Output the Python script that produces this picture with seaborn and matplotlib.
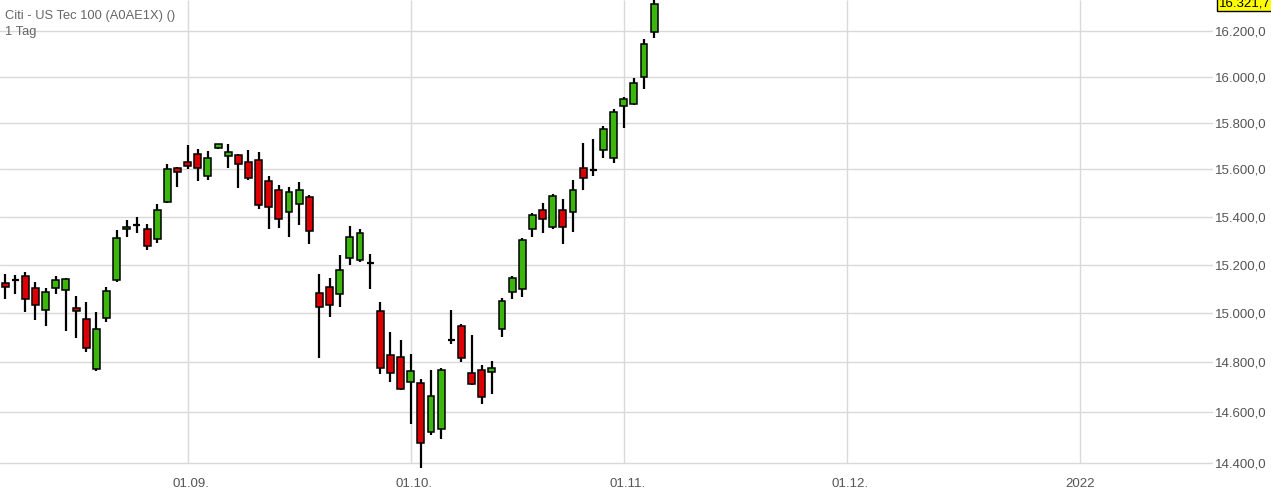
import numpy as np
import pandas as pd
import matplotlib
matplotlib.use("Agg")
import matplotlib.pyplot as plt
import matplotlib.transforms as mtransforms
from matplotlib.ticker import FixedLocator, FuncFormatter, NullLocator
import seaborn as sns

# ---------------- data ----------------
start_date = "2021-08-06"
opens = [15124, 15135, 15152, 15104, 15012, 15104, 15095, 15023, 14976, 14772,
         14980, 15135, 15347, 15367, 15347, 15305, 15462, 15608, 15634, 15668,
         15574, 15693, 15659, 15661, 15630, 15642, 15549, 15511, 15421, 15455,
         15485, 15083, 15108, 15079, 15227, 15218, 15207, 15008, 14829, 14820,
         14722, 14716, 14521, 14531, 14891, 14947, 14756, 14768, 14760, 14935,
         15087, 15099, 15347, 15430, 15359, 15430, 15421, 15608, 15597, 15685,
         15647, 15874, 15883, 16000, 16196]
highs = [15162, 15159, 15170, 15127, 15104, 15154, 15145, 15069, 15046, 15004,
         15108, 15344, 15388, 15398, 15371, 15452, 15625, 15611, 15703, 15686,
         15678, 15711, 15708, 15668, 15682, 15673, 15571, 15532, 15526, 15545,
         15491, 15162, 15145, 15240, 15360, 15347, 15245, 15046, 14922, 14890,
         14833, 14732, 14768, 14776, 15012, 14955, 14910, 14788, 14804, 15062,
         15153, 15310, 15417, 15459, 15498, 15476, 15557, 15715, 15732, 15787,
         15861, 15913, 15996, 16164, 16345]
lows = [15058, 15080, 15004, 14970, 14949, 15079, 14925, 14900, 14843, 14766,
        14962, 15130, 15316, 15333, 15259, 15289, 15458, 15526, 15601, 15551,
        15554, 15688, 15608, 15522, 15557, 15431, 15349, 15353, 15316, 15367,
        15285, 14816, 14986, 15027, 15199, 15211, 15099, 14752, 14722, 14690,
        14552, 14378, 14509, 14493, 14874, 14800, 14708, 14632, 14672, 14902,
        15058, 15066, 15314, 15330, 15347, 15285, 15338, 15515, 15573, 15647,
        15628, 15779, 15878, 15948, 16169]
closes = [15108, 15135, 15058, 15033, 15087, 15137, 15142, 15008, 14857, 14935,
          15091, 15310, 15357, 15367, 15279, 15430, 15600, 15590, 15615, 15607,
          15651, 15708, 15676, 15625, 15564, 15451, 15441, 15392, 15506, 15515,
          15340, 15025, 15033, 15178, 15314, 15330, 15207, 14776, 14756, 14693,
          14764, 14477, 14664, 14768, 14891, 14816, 14712, 14660, 14776, 15050,
          15145, 15301, 15408, 15392, 15489, 15355, 15511, 15562, 15597, 15774,
          15848, 15904, 15974, 16142, 16321.7]

tick_dates = ["2021-09-01", "2021-10-01", "2021-11-01", "2021-12-01", "2022-01-03"]
tick_labels = ["01.09.", "01.10.", "01.11.", "01.12.", "2022"]
y_ticks = [14400, 14600, 14800, 15000, 15200, 15400, 15600, 15800, 16000, 16200]
title_line1 = "Citi - US Tec 100 (A0AE1X) ()"
title_line2 = "1 Tag"


def de_fmt(v):
    return f"{v:,.1f}".replace(",", "X").replace(".", ",").replace("X", ".")


# ---------------- frame ----------------
axis_dates = pd.bdate_range(start_date, "2022-01-31")
pos = {d: i for i, d in enumerate(axis_dates)}
n = len(closes)
df = pd.DataFrame({"date": axis_dates[:n], "open": opens, "high": highs,
                   "low": lows, "close": closes})
df["x"] = np.arange(n)
df["up"] = df["close"] > df["open"]
df["doji"] = df["close"] == df["open"]

sns.set_theme(style="white")
plt.rcParams["font.family"] = ["Liberation Sans", "DejaVu Sans"]

W, H = 1271, 493
fig = plt.figure(figsize=(W / 100, H / 100), dpi=100)
ax = fig.add_axes([0, 23 / H, 1213 / W, 470 / H])
ax.set_yscale("log")
ymin, ymax = 14371, 16339
ax.set_ylim(ymin, ymax)
ax.set_xlim(-0.5, 119.1)

grid_c = "#d9d9d9"
ax.yaxis.set_major_locator(FixedLocator(y_ticks))
ax.yaxis.set_minor_locator(NullLocator())
ax.yaxis.set_major_formatter(FuncFormatter(lambda v, p: de_fmt(v)))
ax.grid(axis="y", color=grid_c, lw=1.0)
ax.yaxis.tick_right()
ax.tick_params(axis="y", length=0, pad=1.5, labelsize=9.5, labelcolor="#555555")

xt = [pos[pd.Timestamp(d)] for d in tick_dates]
ax.set_xticks(xt)
ax.set_xticklabels(tick_labels)
ax.xaxis.set_minor_locator(NullLocator())
ax.tick_params(axis="x", length=0, pad=6, labelsize=9.5, labelcolor="#555555")
for lbl in ax.get_xticklabels():
    if lbl.get_text().endswith("."):
        lbl.set_transform(lbl.get_transform() + mtransforms.ScaledTranslation(
            3.5 / 100, 0, fig.dpi_scale_trans))
ax.vlines(xt, y_ticks[0], ymax, color=grid_c, lw=1.0, zorder=0.5)
for s in ax.spines.values():
    s.set_visible(False)

# ---------------- candles ----------------
green, red = "#3cb50c", "#dd0000"
bw = 0.68
ax.vlines(df["x"], df["low"], df["high"], color="black", lw=1.6, zorder=2)
body = df[~df["doji"]]
ax.bar(body["x"], (body["close"] - body["open"]).abs(),
       bottom=np.minimum(body["open"], body["close"]), width=bw,
       color=np.where(body["up"], green, red), edgecolor="black", lw=1.1, zorder=3)
dj = df[df["doji"]]
ax.hlines(dj["close"], dj["x"] - bw / 2, dj["x"] + bw / 2, color="black", lw=1.6, zorder=3)

# ---------------- texts ----------------
fig.text(5 / W, 1 - 16 / H, title_line1, fontsize=9.3, color="#666666", va="center", ha="left")
fig.text(5 / W, 1 - 32 / H, title_line2, fontsize=9.3, color="#666666", va="center", ha="left")
ax.annotate(de_fmt(closes[-1]), xy=(1.0, closes[-1]), xycoords=ax.get_yaxis_transform(),
            xytext=(4, 0), textcoords="offset points",
            fontsize=9.5, color="black", va="center", ha="left",
            bbox=dict(boxstyle="square,pad=0.12", fc="#ffff00", ec="black", lw=1.0),
            annotation_clip=False)

fig.savefig("out.png", dpi=100)
